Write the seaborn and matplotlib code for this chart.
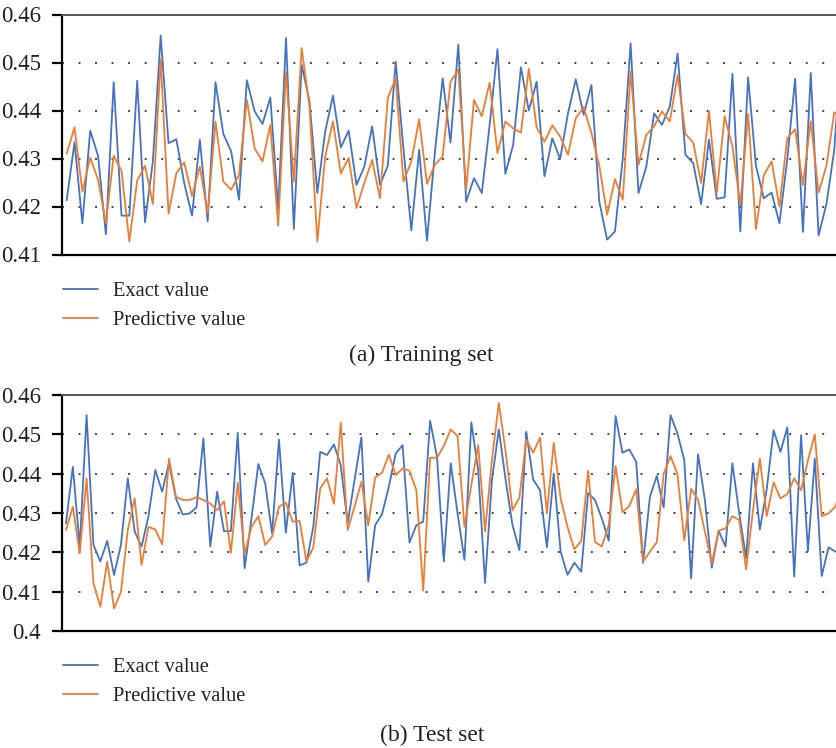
import numpy as np
import pandas as pd
import matplotlib
matplotlib.use("Agg")
import matplotlib.pyplot as plt
import seaborn as sns
from matplotlib.ticker import FuncFormatter

# ---------------- data ----------------
train_exact = [
    0.4213, 0.4334, 0.4165, 0.4358, 0.4306, 0.4142, 0.4459, 0.4181, 0.4181, 0.4462,
    0.4167, 0.4294, 0.4556, 0.4332, 0.4340, 0.4249, 0.4181, 0.4339, 0.4169, 0.4459,
    0.4351, 0.4315, 0.4214, 0.4463, 0.4398, 0.4372, 0.4427, 0.4195, 0.4551, 0.4153,
    0.4495, 0.4419, 0.4228, 0.4356, 0.4431, 0.4323, 0.4358, 0.4245, 0.4283, 0.4367,
    0.4245, 0.4285, 0.4502, 0.4320, 0.4150, 0.4318, 0.4129, 0.4311, 0.4467, 0.4333,
    0.4537, 0.4210, 0.4259, 0.4228, 0.4370, 0.4528, 0.4268, 0.4328, 0.4490, 0.4400,
    0.4460, 0.4263, 0.4342, 0.4299, 0.4394, 0.4465, 0.4391, 0.4453, 0.4210, 0.4131,
    0.4148, 0.4300, 0.4540, 0.4228, 0.4283, 0.4394, 0.4370, 0.4408, 0.4519, 0.4308,
    0.4290, 0.4205, 0.4339, 0.4216, 0.4219, 0.4476, 0.4148, 0.4469, 0.4285, 0.4217,
    0.4229, 0.4165, 0.4298, 0.4466, 0.4147, 0.4478, 0.4140, 0.4205, 0.4318, 0.4555,
]
train_pred = [
    0.4310, 0.4365, 0.4231, 0.4302, 0.4256, 0.4165, 0.4306, 0.4274, 0.4127, 0.4254,
    0.4285, 0.4205, 0.4507, 0.4185, 0.4269, 0.4292, 0.4222, 0.4283, 0.4186, 0.4377,
    0.4252, 0.4235, 0.4266, 0.4422, 0.4321, 0.4294, 0.4370, 0.4160, 0.4481, 0.4252,
    0.4530, 0.4408, 0.4127, 0.4304, 0.4377, 0.4269, 0.4301, 0.4197, 0.4249, 0.4297,
    0.4217, 0.4426, 0.4467, 0.4252, 0.4294, 0.4382, 0.4247, 0.4287, 0.4304, 0.4460,
    0.4485, 0.4235, 0.4422, 0.4388, 0.4458, 0.4311, 0.4377, 0.4363, 0.4354, 0.4487,
    0.4365, 0.4335, 0.4369, 0.4346, 0.4308, 0.4384, 0.4407, 0.4353, 0.4285, 0.4183,
    0.4257, 0.4214, 0.4481, 0.4287, 0.4349, 0.4367, 0.4398, 0.4377, 0.4474, 0.4351,
    0.4333, 0.4249, 0.4399, 0.4229, 0.4388, 0.4325, 0.4203, 0.4393, 0.4153, 0.4265,
    0.4294, 0.4200, 0.4342, 0.4361, 0.4245, 0.4378, 0.4229, 0.4285, 0.4396, 0.4385,
]
test_exact = [
    0.4274, 0.4417, 0.4215, 0.4548, 0.4219, 0.4177, 0.4229, 0.4143, 0.4219, 0.4388,
    0.4253, 0.4215, 0.4291, 0.4409, 0.4354, 0.4427, 0.4337, 0.4296, 0.4299, 0.4314,
    0.4489, 0.4215, 0.4354, 0.4254, 0.4254, 0.4503, 0.4160, 0.4286, 0.4424, 0.4375,
    0.4248, 0.4486, 0.4250, 0.4402, 0.4167, 0.4174, 0.4265, 0.4455, 0.4447, 0.4474,
    0.4421, 0.4274, 0.4383, 0.4492, 0.4126, 0.4269, 0.4297, 0.4367, 0.4451, 0.4472,
    0.4225, 0.4269, 0.4278, 0.4534, 0.4443, 0.4177, 0.4426, 0.4299, 0.4181, 0.4530,
    0.4409, 0.4123, 0.4383, 0.4512, 0.4383, 0.4269, 0.4206, 0.4506, 0.4385, 0.4358,
    0.4213, 0.4400, 0.4202, 0.4143, 0.4174, 0.4151, 0.4351, 0.4333, 0.4286, 0.4230,
    0.4546, 0.4453, 0.4461, 0.4430, 0.4174, 0.4341, 0.4394, 0.4314, 0.4548, 0.4502,
    0.4434, 0.4134, 0.4449, 0.4333, 0.4161, 0.4255, 0.4215, 0.4426, 0.4299, 0.4185,
    0.4426, 0.4258, 0.4360, 0.4510, 0.4455, 0.4517, 0.4139, 0.4497, 0.4204, 0.4438,
    0.4140, 0.4213, 0.4202, 0.4202,
]
test_pred = [
    0.4257, 0.4316, 0.4198, 0.4388, 0.4122, 0.4062, 0.4177, 0.4058, 0.4100, 0.4257,
    0.4337, 0.4168, 0.4265, 0.4258, 0.4221, 0.4438, 0.4341, 0.4333, 0.4333, 0.4340,
    0.4333, 0.4324, 0.4307, 0.4330, 0.4199, 0.4377, 0.4196, 0.4265, 0.4292, 0.4219,
    0.4240, 0.4316, 0.4326, 0.4278, 0.4280, 0.4177, 0.4213, 0.4362, 0.4388, 0.4323,
    0.4529, 0.4257, 0.4316, 0.4379, 0.4269, 0.4390, 0.4402, 0.4448, 0.4396, 0.4413,
    0.4407, 0.4358, 0.4103, 0.4440, 0.4440, 0.4470, 0.4512, 0.4495, 0.4265, 0.4371,
    0.4472, 0.4253, 0.4434, 0.4579, 0.4455, 0.4307, 0.4339, 0.4486, 0.4453, 0.4491,
    0.4299, 0.4478, 0.4337, 0.4265, 0.4208, 0.4229, 0.4407, 0.4227, 0.4215, 0.4269,
    0.4419, 0.4302, 0.4318, 0.4360, 0.4177, 0.4202, 0.4226, 0.4400, 0.4444, 0.4399,
    0.4231, 0.4361, 0.4334, 0.4253, 0.4172, 0.4255, 0.4261, 0.4292, 0.4282, 0.4157,
    0.4307, 0.4438, 0.4292, 0.4378, 0.4337, 0.4348, 0.4388, 0.4358, 0.4434, 0.4499,
    0.4292, 0.4299, 0.4316, 0.4380,
]
series_names = ["Exact value", "Predictive value"]
captions = ["(a) Training set", "(b) Test set"]
train_yticks = [0.41, 0.42, 0.43, 0.44, 0.45, 0.46]
test_yticks = [0.40, 0.41, 0.42, 0.43, 0.44, 0.45, 0.46]

# ---------------- style ----------------
sns.set_style("white")
plt.rcParams["font.family"] = ["Liberation Serif", "DejaVu Serif"]
BLUE = "#4472C4"
ORANGE = "#ED7D31"
FS_LEG = 14.8
FS_TICK = 16.5
FS_CAP = 17.0

W, H = 837, 748
fig = plt.figure(figsize=(W / 100, H / 100), dpi=100)

def px_axes(left, top, right, bottom):
    return fig.add_axes([left / W, 1 - bottom / H, (right - left) / W, (bottom - top) / H])

ax1 = px_axes(62, 14.5, 837, 254.5)
ax2 = px_axes(62, 394.7, 837, 631.3)

def draw(ax, exact, pred, yticks, xlim):
    x1 = np.arange(len(exact))
    x2 = np.arange(len(pred))
    sns.lineplot(x=x1, y=exact, ax=ax, color=BLUE, lw=1.3, label=series_names[0],
                 sort=False, estimator=None, legend=False)
    sns.lineplot(x=x2, y=pred, ax=ax, color=ORANGE, lw=1.3, label=series_names[1],
                 sort=False, estimator=None, legend=False)
    ax.set_xlim(*xlim)
    ax.set_ylim(yticks[0], yticks[-1])
    ax.set_yticks(yticks)
    ax.yaxis.set_major_formatter(FuncFormatter(lambda v, p: f"{round(v, 2):g}"))
    ax.set_xticks([])
    ax.set_xlabel("")
    ax.set_ylabel("")
    for y in yticks[1:-1]:
        ax.axhline(y, color="#444444", lw=1.4, ls=(0, (1, 7.5)), zorder=0)
    ax.spines["left"].set_color("black")
    ax.spines["left"].set_linewidth(1.6)
    ax.spines["bottom"].set_color("black")
    ax.spines["bottom"].set_linewidth(1.6)
    ax.spines["top"].set_color("#555555")
    ax.spines["top"].set_linewidth(1.4)
    ax.spines["right"].set_visible(False)
    ax.tick_params(axis="y", direction="out", length=7, width=1.6, color="black",
                   labelsize=FS_TICK, pad=8, left=True, labelcolor="#222222")
    ax.grid(False)

draw(ax1, train_exact, train_pred, train_yticks, (-0.6, 98.35))
draw(ax2, test_exact, test_pred, test_yticks, (-0.58, 112.23))

def add_legend(ax, top_px):
    h, l = ax.get_legend_handles_labels()
    leg = ax.legend(h, l, loc="upper left", bbox_to_anchor=(63 / W, 1 - top_px / H),
                    bbox_transform=fig.transFigure, frameon=False, fontsize=FS_LEG,
                    handlelength=1.7, handletextpad=0.75, labelspacing=0.45,
                    borderpad=0, borderaxespad=0)
    for t in leg.get_texts():
        t.set_color("#222222")

add_legend(ax1, 282)
add_legend(ax2, 658)

fig.text(421 / W, 1 - 355 / H, captions[0], ha="center", va="center",
         fontsize=FS_CAP, color="#222222")
fig.text(432 / W, 1 - 735 / H, captions[1], ha="center", va="center",
         fontsize=FS_CAP, color="#222222")

fig.savefig("out.png", dpi=100)
